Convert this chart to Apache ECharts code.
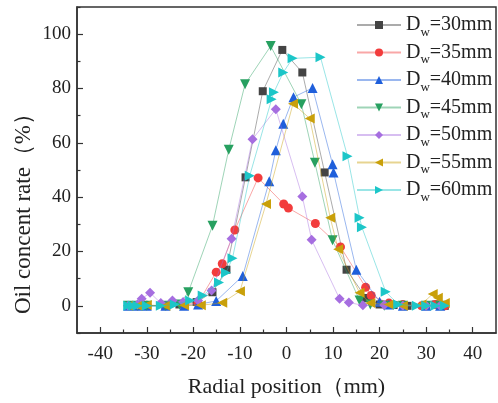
<!DOCTYPE html>
<html><head><meta charset="utf-8">
<script src="https://cdn.jsdelivr.net/npm/echarts@6/dist/echarts.min.js"></script>
<style>html,body{margin:0;padding:0;background:#fff}#c{width:498px;height:403px}</style>
</head><body><div id="c"></div>
<script>
const seriesNames = ['30mm','35mm','40mm','45mm','50mm','55mm','60mm'];
const xTickLabels = [-40,-30,-20,-10,0,10,20,30,40];
const xMinorTicks = [-35,-25,-15,-5,5,15,25,35];
const yTickLabels = [0,20,40,60,80,100];
const yMinorTicks = [-10,10,30,50,70,90,110];

const x30 = [-34,-33,-32,-30,-26,-23,-19.3,-15.9,-12.9,-8.8,-5.1,-0.9,3.4,8.2,12.9,17.1,20,23,26,30,32,34];
const y30 = [0,0,0.3,0,0.2,0.5,1.4,5,13.3,47.3,79,94.2,85.9,49.1,13.3,2.9,0.5,0.3,0,0,0.5,0];

const x35 = [-34,-32,-30,-26,-22,-19,-15.1,-13.8,-11.1,-6.1,-0.6,0.4,6.2,11.6,17,18.2,22,25,29,32,34];
const y35 = [0,0,0.2,0,0.3,1,12.4,15.5,27.9,47.1,37.5,36,30.3,21.7,6.8,3.8,1,0.5,0,0.5,0];

const x40 = [-34,-32,-30,-26,-22,-19,-15.1,-9.4,-3.7,-2.3,-0.7,1.5,5.6,9.9,10.1,15,20,22,25,30,33];
const y40 = [0,0,0,0,0,0.5,1.8,11,45.9,57.3,67,76.8,80.2,52.1,49.1,13.3,1.5,0.5,0,0,0];

const x45 = [-34,-32,-30,-26,-23,-21.1,-15.9,-12.4,-8.9,-3.4,3.2,6.1,9.9,15.7,18,21,25,30,33];
const y45 = [0,0,0,0,0.5,5,29.5,57.5,81.6,95.6,74.2,52.7,24.1,2,0.5,0,0,0,0];

const x50 = [-34,-32,-31.1,-29.3,-27,-24.5,-22.2,-19,-16.1,-11.8,-7.3,-2.3,3.4,5.4,11.4,13.4,16.4,21,25,30,33];
const y50 = [0,0.5,2.6,4.8,1,2,1.4,2,5.6,24.7,61.3,72.4,40.2,24.3,2.6,1.2,0.2,0.3,0,0,0];

const x55 = [-34,-32,-30,-26,-22,-18.4,-13.8,-10,-4.4,1.4,5,9.4,11.1,15.7,18,22,25,29,31.4,32.5,34];
const y55 = [0,0,0.3,0,0.2,0.2,1.1,5.4,37.5,74.4,69,32.4,20.8,4.8,1,0.5,0,0.5,4.4,3,1];

const x60 = [-34,-33,-32,-30,-27,-24,-20.7,-18,-14.5,-13,-11.6,-7.9,-3.2,-2.7,-0.7,1.3,7.3,13.1,15.7,16.2,21.3,24,28,30,32,34];
const y60 = [0,0,0,0,0,0.5,2,3.8,8.6,12.2,17.5,47.9,76,78.6,85.9,91.1,91.5,55.1,32.4,28.9,5.2,0.5,0,0,0,0];

const xs = [x30,x35,x40,x45,x50,x55,x60];
const ys = [y30,y35,y40,y45,y50,y55,y60];
const colors = ['#444444','#f23c3c','#1f5fdb','#27a060','#a66ee0','#c9a00a','#1cc6c8'];
const symbols = ['rect','circle','triangle','triangle','diamond','triangle','triangle'];
const rotates = [0,0,0,180,0,90,-90];
const sizes = [8,9,10,10,10,10,10];

const FONT = '"Liberation Serif","Times New Roman",serif';
const chart = echarts.init(document.getElementById('c'), null, {renderer:'canvas'});
const series = seriesNames.map((n,i)=>({
  name: n, type:'line',
  data: xs[i].map((x,j)=>[x, ys[i][j]]),
  symbol: symbols[i], symbolSize: sizes[i], symbolRotate: rotates[i],
  itemStyle:{color:colors[i]},
  lineStyle:{color:colors[i], width:1, opacity:0.45},
  z: 2+i
}));
chart.setOption({
  animation:false,
  grid:{left:77,right:2,top:7,bottom:61,show:true,borderColor:'#333',borderWidth:1.5,backgroundColor:'transparent'},
  legend:{
    orient:'vertical', left:351, top:10, itemWidth:44, itemHeight:10, itemGap:3.5,
    data: seriesNames,
    formatter: n=>'{a|D}{b|w}{a|='+n+'}',
    textStyle:{fontFamily:FONT,color:'#222',
      rich:{a:{fontFamily:FONT,fontSize:20,color:'#222',lineHeight:24,verticalAlign:'middle'},
            b:{fontFamily:FONT,fontSize:13,color:'#222',lineHeight:28,verticalAlign:'bottom'}}}
  },
  xAxis:[{
    type:'value', min:-45, max:45,
    axisLine:{show:true,onZero:false,lineStyle:{color:'#333',width:1.5}},
    axisTick:{show:true,inside:true,length:6,customValues:xTickLabels,lineStyle:{color:'#333',width:1.2}},
    axisLabel:{customValues:xTickLabels,fontFamily:FONT,fontSize:19,color:'#222',margin:12},
    splitLine:{show:false},
    name:'Radial position（mm)', nameLocation:'middle', nameGap:43,
    nameTextStyle:{fontFamily:FONT,fontSize:22,color:'#222'}
  },{
    type:'value', min:-45, max:45, position:'bottom',
    axisLine:{show:false,onZero:false}, axisLabel:{show:false}, splitLine:{show:false},
    axisTick:{show:true,inside:true,length:3.5,customValues:xMinorTicks,lineStyle:{color:'#333',width:1.2}}
  }],
  yAxis:[{
    type:'value', min:-10, max:110,
    axisLine:{show:true,onZero:false,lineStyle:{color:'#333',width:1.5}},
    axisTick:{show:true,inside:true,length:6,customValues:yTickLabels,lineStyle:{color:'#333',width:1.2}},
    axisLabel:{customValues:yTickLabels,fontFamily:FONT,fontSize:19,color:'#222',margin:6},
    splitLine:{show:false}
  },{
    type:'value', min:-10, max:110, position:'left',
    axisLine:{show:false,onZero:false}, axisLabel:{show:false}, splitLine:{show:false},
    axisTick:{show:true,inside:true,length:3.5,customValues:yMinorTicks,lineStyle:{color:'#333',width:1.2}}
  }],
  graphic:[{
    type:'text', x:24, y:208, rotation:Math.PI/2,
    style:{text:'Oil concent rate（%）', fontFamily:FONT, fontSize:23, fill:'#222', align:'center', verticalAlign:'middle'}
  }],
  series: series
});
</script></body></html>
